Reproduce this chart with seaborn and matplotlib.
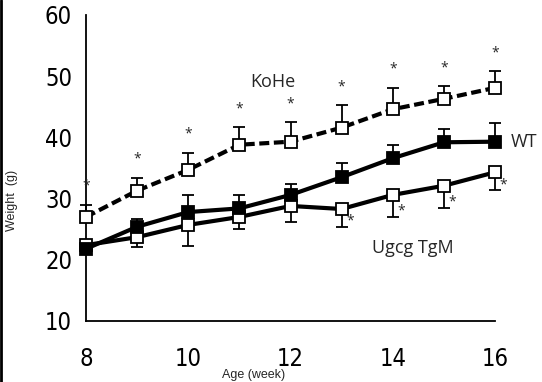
import numpy as np
import pandas as pd
import seaborn as sns
import matplotlib.pyplot as plt
from matplotlib.lines import Line2D

# --- data ---
weeks = [8, 9, 10, 11, 12, 13, 14, 15, 16]
wt = [21.8, 25.4, 27.8, 28.4, 30.6, 33.5, 36.6, 39.2, 39.3]
wt_err = [1.0, 1.2, 2.8, 2.2, 1.8, 2.3, 2.2, 2.2, 3.1]
kohe = [27.0, 31.3, 34.7, 38.8, 39.3, 41.6, 44.6, 46.3, 48.1]
kohe_err = [2.0, 2.1, 2.8, 2.9, 3.2, 3.7, 3.5, 2.1, 2.7]
ugcg = [22.4, 23.7, 25.7, 27.0, 28.8, 28.3, 30.6, 32.1, 34.3]
ugcg_err = [1.2, 1.6, 3.4, 2.0, 2.6, 2.9, 3.6, 3.6, 2.9]
kohe_sig = weeks
ugcg_sig = [13, 14, 15, 16]

df = pd.DataFrame({
    "week": weeks * 3,
    "weight": wt + kohe + ugcg,
    "group": ["WT"] * 9 + ["KoHe"] * 9 + ["Ugcg TgM"] * 9,
})

sns.set_style("white")
label_font = ["Open Sans", "DejaVu Sans"]

fig = plt.figure(figsize=(5.42, 3.82), dpi=100)
ax = fig.add_axes([86 / 542, 1 - 321 / 382, (495 - 86) / 542, (321 - 15) / 382])

styles = {
    "KoHe": dict(ls=(0, (2.4, 1.1)), mfc="white"),
    "WT": dict(ls="-", mfc="black"),
    "Ugcg TgM": dict(ls="-", mfc="white"),
}
errs = {"KoHe": (kohe, kohe_err, "up"), "WT": (wt, wt_err, "up"),
        "Ugcg TgM": (ugcg, ugcg_err, "down")}

for name in ["Ugcg TgM", "WT", "KoHe"]:
    vals, err, side = errs[name]
    if side == "up":
        yerr = [np.zeros(len(err)), err]
    else:
        yerr = [err, np.zeros(len(err))]
    ax.errorbar(weeks, vals, yerr=yerr, fmt="none", ecolor="black",
                elinewidth=1.3, capsize=4.5, capthick=1.3, zorder=2, clip_on=False)
    sub = df[df["group"] == name]
    sns.lineplot(data=sub, x="week", y="weight", ax=ax, color="black",
                 linewidth=3.0, linestyle=styles[name]["ls"], marker="s",
                 markersize=8.5, markerfacecolor=styles[name]["mfc"],
                 markeredgecolor="black", markeredgewidth=1.3,
                 legend=False, zorder=3, clip_on=False)

# significance stars
for w in kohe_sig:
    i = weeks.index(w)
    ax.text(w, kohe[i] + kohe_err[i] + 3.0, "*", ha="center", va="center",
            fontsize=10, family=label_font)
for w in ugcg_sig:
    i = weeks.index(w)
    ax.text(w + 0.16, ugcg[i] - ugcg_err[i] + 0.9, "*", ha="center", va="center",
            fontsize=10, family=label_font)

ax.text(12.1, 49.0, "KoHe", fontsize=13, family=label_font, ha="right", va="center")
ax.text(16.3, 39.3, "WT", fontsize=13, family=label_font, ha="left", va="center")
ax.text(14.4, 22.0, "Ugcg TgM", fontsize=13, family=label_font, ha="center", va="center")

ax.set_xlim(8, 16)
ax.set_ylim(10, 60)
ax.set_xticks([8, 10, 12, 14, 16])
ax.set_yticks([10, 20, 30, 40, 50, 60])
ax.tick_params(direction="in", length=5, width=1.2, colors="black",
               labelsize=17, pad=10)
ax.tick_params(axis="x", pad=19)
for lab in ax.get_xticklabels() + ax.get_yticklabels():
    lab.set_family(["DejaVu Sans"])
    lab.set_fontstretch("condensed")
    lab.set_fontweight("light")
sns.despine(ax=ax)
for s in ["left", "bottom"]:
    ax.spines[s].set_color("black")
    ax.spines[s].set_linewidth(1.3)
ax.set_xlabel("")
ax.set_ylabel("")

fig.text(254 / 542, 1 - 375 / 382, "Age (week)", ha="center", va="center",
         fontsize=9, family=["Liberation Sans", "DejaVu Sans"])
fig.text(12 / 542, 1 - 200 / 382, "Weight  (g)", ha="center", va="center",
         rotation=90, fontsize=9, family=["Liberation Sans", "DejaVu Sans"])

fig.add_artist(Line2D([0.002, 0.002], [0, 1], color="black", linewidth=2,
                      transform=fig.transFigure))

fig.savefig("out.png", dpi=100)
